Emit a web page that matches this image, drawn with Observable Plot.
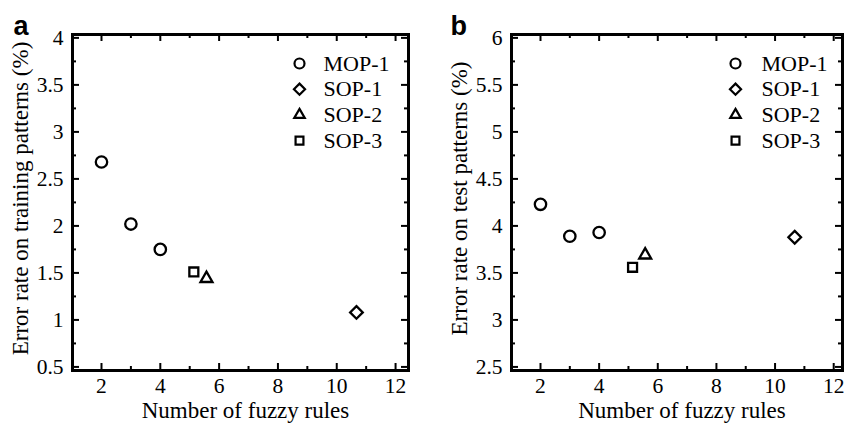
<!DOCTYPE html>
<html>
<head>
<meta charset="utf-8">
<script src="https://cdn.jsdelivr.net/npm/d3@7"></script>
<script src="https://cdn.jsdelivr.net/npm/@observablehq/plot@0.6"></script>
<style>
  html, body { margin: 0; padding: 0; background: #fff; }
  #wrap { position: relative; width: 844px; height: 424px; display: flex; flex-direction: row; }
  #wrap svg { display: block; overflow: visible; }
</style>
</head>
<body>
<div id="wrap"></div>
<script>
// ---- data ----
const seriesNames = ["MOP-1", "SOP-1", "SOP-2", "SOP-3"];
const seriesSymbols = ["circle", "diamond2", "triangle2", "square2"];

const mop1Rules = [2, 3, 4];
const mop1Train = [2.68, 2.02, 1.75];
const mop1Test = [4.23, 3.89, 3.93];

const sop1Rules = [10.67];
const sop1Train = [1.08];
const sop1Test = [3.88];

const sop2Rules = [5.57];
const sop2Train = [1.44];
const sop2Test = [3.69];

const sop3Rules = [5.14];
const sop3Train = [1.51];
const sop3Test = [3.56];

const xMajorTicks = [2, 4, 6, 8, 10, 12];
const xMinorTicks = [3, 5, 7, 9, 11];
const xTickLabels = ["2", "4", "6", "8", "10", "12"];

const yMajorTicksA = [0.5, 1, 1.5, 2, 2.5, 3, 3.5, 4];
const yMinorTicksA = [0.75, 1.25, 1.75, 2.25, 2.75, 3.25, 3.75];
const yTickLabelsA = ["0.5", "1", "1.5", "2", "2.5", "3", "3.5", "4"];

const yMajorTicksB = [2.5, 3, 3.5, 4, 4.5, 5, 5.5, 6];
const yMinorTicksB = [2.75, 3.25, 3.75, 4.25, 4.75, 5.25, 5.75];
const yTickLabelsB = ["2.5", "3", "3.5", "4", "4.5", "5", "5.5", "6"];

const xTitle = "Number of fuzzy rules";
const yTitleA = "Error rate on training patterns (%)";
const yTitleB = "Error rate on test patterns (%)";

function buildRows(rules, vals, name) {
  return rules.map((r, i) => ({rules: r, value: vals[i], series: name}));
}

const panelA = [
  ...buildRows(mop1Rules, mop1Train, "MOP-1"),
  ...buildRows(sop1Rules, sop1Train, "SOP-1"),
  ...buildRows(sop2Rules, sop2Train, "SOP-2"),
  ...buildRows(sop3Rules, sop3Train, "SOP-3")
];
const panelB = [
  ...buildRows(mop1Rules, mop1Test, "MOP-1"),
  ...buildRows(sop1Rules, sop1Test, "SOP-1"),
  ...buildRows(sop2Rules, sop2Test, "SOP-2"),
  ...buildRows(sop3Rules, sop3Test, "SOP-3")
];

function panel(cfg) {
  const innerW = cfg.width - cfg.marginLeft - cfg.marginRight;
  const innerH = cfg.height - cfg.marginTop - cfg.marginBottom;
  const majorLen = 7, minorLen = 4;
  const tickStyle = {stroke: "black", strokeWidth: 2};
  const legendMarks = cfg.legendNames.flatMap((name, i) => [
    Plot.dot([name], {
      frameAnchor: "top-right", dx: cfg.legendSymDx, dy: cfg.legendDy0 + cfg.legendStep * i,
      symbol: () => seriesSymbols[i], r: 5, stroke: "black", strokeWidth: 2.2, fill: "none"
    }),
    Plot.text([name], {
      frameAnchor: "top-right", dx: cfg.legendTextDx, dy: cfg.legendDy0 + cfg.legendStep * i,
      text: d => d, textAnchor: "start", lineAnchor: "middle", fontSize: 22, fill: "black"
    })
  ]);
  return Plot.plot({
    width: cfg.width,
    height: cfg.height,
    marginLeft: cfg.marginLeft,
    marginRight: cfg.marginRight,
    marginTop: cfg.marginTop,
    marginBottom: cfg.marginBottom,
    style: {fontFamily: "'Liberation Serif', 'Times New Roman', serif", color: "black", background: "white"},
    x: {domain: cfg.xDomain, axis: null},
    y: {domain: cfg.yDomain, axis: null},
    symbol: {domain: seriesNames, range: seriesSymbols},
    marks: [
      // tick marks (inward, all four sides)
      Plot.tickX(xMajorTicks, {x: d => d, insetTop: innerH - majorLen, ...tickStyle}),
      Plot.tickX(xMajorTicks, {x: d => d, insetBottom: innerH - majorLen, ...tickStyle}),
      Plot.tickX(xMinorTicks, {x: d => d, insetTop: innerH - minorLen, ...tickStyle}),
      Plot.tickX(xMinorTicks, {x: d => d, insetBottom: innerH - minorLen, ...tickStyle}),
      Plot.tickY(cfg.yMajor, {y: d => d, insetRight: innerW - majorLen, ...tickStyle}),
      Plot.tickY(cfg.yMajor, {y: d => d, insetLeft: innerW - majorLen, ...tickStyle}),
      Plot.tickY(cfg.yMinor, {y: d => d, insetRight: innerW - minorLen, ...tickStyle}),
      Plot.tickY(cfg.yMinor, {y: d => d, insetLeft: innerW - minorLen, ...tickStyle}),
      Plot.frame({stroke: "black", strokeWidth: 3}),
      // tick labels
      Plot.axisX(xMajorTicks, {tickSize: 0, tickPadding: 7, fontSize: 21.5, tickFormat: (d, i) => xTickLabels[i], label: null}),
      Plot.axisY(cfg.yMajor, {tickSize: 0, tickPadding: 9, fontSize: 21.5, tickFormat: (d, i) => cfg.yLabels[i], label: null}),
      // axis titles
      Plot.text([xTitle], {frameAnchor: "bottom", dy: 40.6, dx: 5, text: d => d, textAnchor: "middle", lineAnchor: "middle", fontSize: 23, fill: "black"}),
      Plot.text([cfg.yTitle], {frameAnchor: "left", dx: cfg.yTitleDx, dy: -4, rotate: -90, text: d => d, textAnchor: "middle", lineAnchor: "middle", fontSize: 23, fill: "black"}),
      // panel letter
      Plot.text([cfg.letter], {frameAnchor: "top-left", dx: cfg.letterDx, dy: -8.3, text: d => d, textAnchor: "start", lineAnchor: "middle",
        fontSize: 27, fontWeight: "bold", fontFamily: "'Liberation Sans', Arial, sans-serif", fill: "black"}),
      // data
      Plot.dot(cfg.data, {x: "rules", y: "value", symbol: "series", r: 5.7, stroke: "black", strokeWidth: 2.3, fill: "none"}),
      ...legendMarks
    ]
  });
}

const wrap = document.getElementById("wrap");
wrap.append(panel({
  width: 420, height: 424, marginLeft: 72, marginRight: 12, marginTop: 34, marginBottom: 54,
  xDomain: [1.014, 12.44], yDomain: [0.462, 4.036],
  yMajor: yMajorTicksA, yMinor: yMinorTicksA, yLabels: yTickLabelsA,
  yTitle: yTitleA, yTitleDx: -52, letter: "a", letterDx: -59,
  data: panelA, legendNames: seriesNames,
  legendSymDx: -109, legendTextDx: -85, legendDy0: 29, legendStep: 25.7
}));
wrap.append(panel({
  width: 424, height: 424, marginLeft: 91, marginRight: 2, marginTop: 34, marginBottom: 54,
  xDomain: [1.011, 12.30], yDomain: [2.462, 6.036],
  yMajor: yMajorTicksB, yMinor: yMinorTicksB, yLabels: yTickLabelsB,
  yTitle: yTitleB, yTitleDx: -52, letter: "b", letterDx: -61,
  data: panelB, legendNames: seriesNames,
  legendSymDx: -107, legendTextDx: -81, legendDy0: 29, legendStep: 25.7
}));
</script>
</body>
</html>
